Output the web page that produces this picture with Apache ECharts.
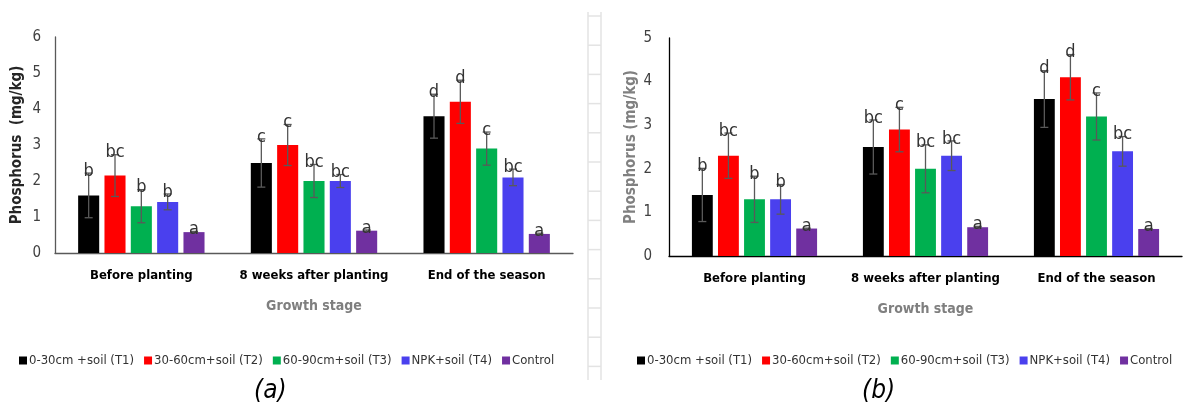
<!DOCTYPE html>
<html>
<head>
<meta charset="utf-8">
<script src="https://cdn.jsdelivr.net/npm/echarts@6/dist/echarts.min.js"></script>
<style>
  html, body { margin: 0; padding: 0; background: #fff; }
  #chart { width: 1186px; height: 412px; }
</style>
</head>
<body>
<div id="chart"></div>
<script>
const stages = ['Before planting', '8 weeks after planting', 'End of the season']
const treatments = ['0-30cm +soil (T1)', '30-60cm+soil (T2)', '60-90cm+soil (T3)', 'NPK+soil (T4)', 'Control']
const colors = ['#000000', '#ff0000', '#00b050', '#4a40ee', '#7030a0']

// chart (a): rows = treatment, cols = stage
const meanA = [[1.6, 2.5, 3.8], [2.15, 3.0, 4.2], [1.3, 2.0, 2.9], [1.42, 2.0, 2.1], [0.58, 0.62, 0.53]]
const errA = [[0.62, 0.67, 0.61], [0.58, 0.57, 0.6], [0.46, 0.46, 0.46], [0.22, 0.18, 0.23], [0.02, 0.02, 0.02]]
const letA = [['b', 'c', 'd'], ['bc', 'c', 'd'], ['b', 'bc', 'c'], ['b', 'bc', 'bc'], ['a', 'a', 'a']]
const ticksA = [0, 1, 2, 3, 4, 5, 6]

// chart (b)
const meanB = [[1.4, 2.5, 3.6], [2.3, 2.9, 4.1], [1.3, 2.0, 3.2], [1.3, 2.3, 2.4], [0.63, 0.66, 0.62]]
const errB = [[0.61, 0.62, 0.65], [0.52, 0.51, 0.52], [0.53, 0.55, 0.54], [0.34, 0.34, 0.34], [0.01, 0.02, 0.01]]
const letB = [['b', 'bc', 'd'], ['bc', 'c', 'd'], ['b', 'bc', 'c'], ['b', 'bc', 'bc'], ['a', 'a', 'a']]
const ticksB = [0, 1, 2, 3, 4, 5]

const FONT = "'DejaVu Sans Condensed', 'Liberation Sans', sans-serif"
const BW = 0.122
const GAP = 0.25

function errRender(ti, letters) {
    return function (params, api) {
        let ci = api.value(0)
        let m = api.value(1)
        let e = api.value(2)
        let band = api.size([1, 0])[0]
        let bw = band * BW
        let step = bw * (1 + GAP)
        let x = api.coord([ci, m])[0] + (ti - 2) * step
        let yHi = api.coord([ci, m + e])[1]
        let yLo = api.coord([ci, m - e])[1]
        let st = { stroke: '#595959', lineWidth: 1.3 }
        return {
            type: 'group',
            children: [
                { type: 'line', shape: { x1: x, y1: yHi, x2: x, y2: yLo }, style: st },
                { type: 'line', shape: { x1: x - 4, y1: yHi, x2: x + 4, y2: yHi }, style: st },
                { type: 'line', shape: { x1: x - 4, y1: yLo, x2: x + 4, y2: yLo }, style: st },
                {
                    type: 'text',
                    style: {
                        x: x, y: yHi - 2, text: letters[ti][params.dataIndex],
                        align: 'center', verticalAlign: 'middle',
                        font: '18px ' + FONT, fill: '#333'
                    }
                }
            ]
        }
    }
}

function buildSeries(mean, err, letters, axisIdx) {
    let out = []
    for (let t = 0; t < treatments.length; t++) {
        out.push({
            name: treatments[t],
            type: 'bar',
            xAxisIndex: axisIdx,
            yAxisIndex: axisIdx,
            barWidth: (BW * 100) + '%',
            barGap: (GAP * 100) + '%',
            itemStyle: { color: colors[t] },
            data: mean[t]
        })
    }
    for (let t = 0; t < treatments.length; t++) {
        let d = []
        for (let s = 0; s < stages.length; s++) {
            d.push([s, mean[t][s], err[t][s]])
        }
        out.push({
            type: 'custom',
            xAxisIndex: axisIdx,
            yAxisIndex: axisIdx,
            z: 5,
            silent: true,
            renderItem: errRender(t, letters),
            data: d
        })
    }
    return out
}

function xAxisOf(idx, lineColor) {
    return {
        type: 'category',
        gridIndex: idx,
        data: stages,
        axisTick: { show: false },
        axisLine: { lineStyle: { color: lineColor, width: 1.3 } },
        axisLabel: { interval: 0, color: '#000', fontFamily: FONT, fontSize: 13, fontWeight: 'bold', margin: 16 },
        name: 'Growth stage',
        nameLocation: 'middle',
        nameGap: 46,
        nameTextStyle: { color: '#7f7f7f', fontFamily: FONT, fontSize: 14, fontWeight: 'bold' }
    }
}

function yAxisOf(idx, ticks, lineColor, nameColor, nameTxt, margin) {
    return {
        type: 'value',
        gridIndex: idx,
        min: ticks[0],
        max: ticks[ticks.length - 1],
        interval: 1,
        splitLine: { show: false },
        axisTick: { show: false },
        axisLine: { show: true, lineStyle: { color: lineColor, width: 1.3 } },
        axisLabel: { color: '#404040', fontFamily: FONT, fontSize: 15, margin: margin },
        name: nameTxt,
        nameLocation: 'middle',
        nameGap: 30,
        nameTextStyle: { color: nameColor, fontFamily: FONT, fontSize: 15, fontWeight: 'bold' }
    }
}

// divider ladder between the two panels
let ladder = [
    { type: 'line', shape: { x1: 588, y1: 12, x2: 588, y2: 380 }, style: { stroke: '#e3e3e3', lineWidth: 1.5 } },
    { type: 'line', shape: { x1: 601, y1: 12, x2: 601, y2: 380 }, style: { stroke: '#e3e3e3', lineWidth: 1.5 } }
]
for (let y = 16; y < 380; y += 29.2) {
    ladder.push({ type: 'line', shape: { x1: 588, y1: y, x2: 601, y2: y }, style: { stroke: '#e3e3e3', lineWidth: 1.5 } })
}

const legendBase = {
    data: treatments, top: 349, width: 580,
    icon: 'rect', itemWidth: 8, itemHeight: 8, itemGap: 10,
    textStyle: { color: '#333', fontFamily: FONT, fontSize: 13, padding: [0, 0, 0, -3] }
}

const option = {
    animation: false,
    backgroundColor: '#fff',
    grid: [
        { left: 55, top: 37, right: 613, bottom: 159 },
        { left: 669, top: 38, right: 4, bottom: 156 }
    ],
    legend: [
        Object.assign({}, legendBase, { left: 14 }),
        Object.assign({}, legendBase, { left: 632 })
    ],
    xAxis: [xAxisOf(0, '#595959'), xAxisOf(1, '#000')],
    yAxis: [
        yAxisOf(0, ticksA, '#595959', '#262626', 'Phosphorus  (mg/kg)', 14),
        yAxisOf(1, ticksB, '#000', '#808080', 'Phosphorus (mg/kg)', 17)
    ],
    graphic: ladder.concat([
        { type: 'text', left: 254, top: 378, style: { text: '(a)', font: 'italic 26px ' + FONT, fill: '#000' } },
        { type: 'text', left: 862, top: 378, style: { text: '(b)', font: 'italic 26px ' + FONT, fill: '#000' } }
    ]),
    series: buildSeries(meanA, errA, letA, 0).concat(buildSeries(meanB, errB, letB, 1))
}

const myChart = echarts.init(document.getElementById('chart'))
myChart.setOption(option)
</script>
</body>
</html>
